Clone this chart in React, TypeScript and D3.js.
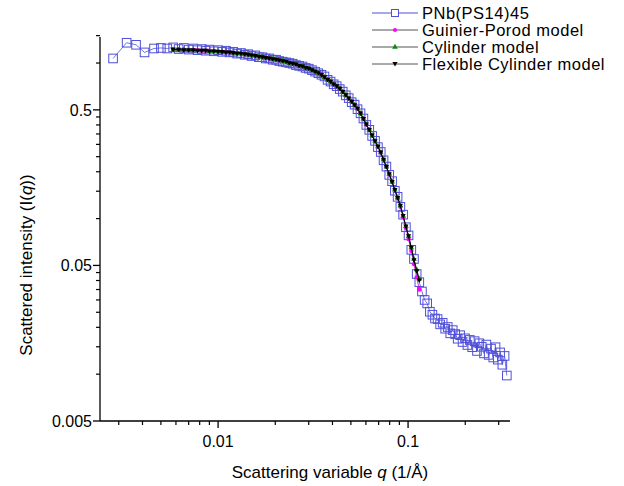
import React from "react";
import * as d3 from "d3";

// measured data: PNb(PS14)45
const qData = [
  0.0028, 0.0033, 0.0037, 0.0041, 0.0046, 0.005, 0.0054, 0.0058, 0.0062, 0.0066,
  0.007, 0.0074, 0.0078, 0.0082, 0.0086, 0.009, 0.0095, 0.01, 0.0105, 0.011,
  0.0115, 0.012, 0.0126, 0.0132, 0.0138, 0.0144, 0.015, 0.0157, 0.0164, 0.0171,
  0.0178, 0.0186, 0.0194, 0.0202, 0.021, 0.0219, 0.0228, 0.0237, 0.0247, 0.0257,
  0.0267, 0.0278, 0.0289, 0.03, 0.0312, 0.0324, 0.0337, 0.035, 0.0363, 0.0377,
  0.0391, 0.0406, 0.0421, 0.0437, 0.0453, 0.047, 0.0487, 0.0505, 0.0523, 0.0542,
  0.0562, 0.0582, 0.0603, 0.0625, 0.0647, 0.067, 0.0694, 0.0718, 0.0743, 0.0769,
  0.0796, 0.0824, 0.0852, 0.0881, 0.0911, 0.0942, 0.0974, 0.1006, 0.104, 0.1074,
  0.111, 0.1146, 0.1183, 0.1222, 0.1261, 0.1302, 0.1343, 0.1386, 0.143, 0.1475,
  0.1521, 0.1568, 0.1617, 0.1667, 0.1718, 0.177, 0.1824, 0.1879, 0.1936, 0.1994,
  0.2053, 0.2114, 0.2176, 0.224, 0.2305, 0.2372, 0.2441, 0.2511, 0.2583, 0.2657,
  0.2732, 0.2809, 0.2888, 0.2969, 0.3051, 0.3135, 0.3221, 0.331,
];
const iData = [
  1.07, 1.35, 1.31, 1.17, 1.24, 1.25, 1.24, 1.26, 1.23, 1.25,
  1.22, 1.24, 1.21, 1.23, 1.2, 1.22, 1.19, 1.21, 1.18, 1.2,
  1.17, 1.18, 1.15, 1.16, 1.13, 1.14, 1.11, 1.12, 1.09, 1.09,
  1.07, 1.07, 1.05, 1.05, 1.03, 1.02, 1.01, 1.0, 0.99, 0.97,
  0.96, 0.95, 0.93, 0.92, 0.9, 0.88, 0.86, 0.84, 0.82, 0.78,
  0.76, 0.73, 0.71, 0.68, 0.655, 0.62, 0.595, 0.56, 0.54, 0.505,
  0.475, 0.44, 0.4, 0.372, 0.34, 0.316, 0.288, 0.268, 0.237, 0.216,
  0.191, 0.174, 0.151, 0.138, 0.119, 0.106, 0.088, 0.078, 0.063, 0.055,
  0.044, 0.039, 0.034, 0.03, 0.0285, 0.0252, 0.0241, 0.0228, 0.0226, 0.0209,
  0.0214, 0.0196, 0.0201, 0.0183, 0.0192, 0.0181, 0.0169, 0.0178, 0.0161, 0.017,
  0.0154, 0.0166, 0.0149, 0.0163, 0.0141, 0.0158, 0.015, 0.0136, 0.0155, 0.0133,
  0.0146, 0.0128, 0.0149, 0.0124, 0.0138, 0.0115, 0.0131, 0.0098,
];

// model fits
const qModel = [
  0.0058, 0.0062, 0.0066, 0.007, 0.0074, 0.0078, 0.0082, 0.0086, 0.009, 0.0095,
  0.01, 0.0105, 0.011, 0.0115, 0.012, 0.0126, 0.0132, 0.0138, 0.0144, 0.015,
  0.0157, 0.0164, 0.0171, 0.0178, 0.0186, 0.0194, 0.0202, 0.021, 0.0219, 0.0228,
  0.0237, 0.0247, 0.0257, 0.0267, 0.0278, 0.0289, 0.03, 0.0312, 0.0324, 0.0337,
  0.035, 0.0363, 0.0377, 0.0391, 0.0406, 0.0421, 0.0437, 0.0453, 0.047, 0.0487,
  0.0505, 0.0523, 0.0542, 0.0562, 0.0582, 0.0603, 0.0625, 0.0647, 0.067, 0.0694,
  0.0718, 0.0743, 0.0769, 0.0796, 0.0824, 0.0852, 0.0881, 0.0911, 0.0942, 0.0974,
  0.1006, 0.104, 0.1074, 0.111, 0.1146,
];
const guinierPorod = [
  1.22, 1.22, 1.22, 1.21, 1.21, 1.21, 1.2, 1.2, 1.2, 1.19,
  1.19, 1.18, 1.18, 1.17, 1.16, 1.16, 1.15, 1.14, 1.13, 1.12,
  1.11, 1.1, 1.09, 1.08, 1.07, 1.06, 1.05, 1.04, 1.03, 1.02,
  1.0, 0.99, 0.98, 0.96, 0.95, 0.93, 0.92, 0.9, 0.88, 0.86,
  0.84, 0.81, 0.78, 0.76, 0.73, 0.71, 0.685, 0.653, 0.622, 0.592,
  0.564, 0.537, 0.509, 0.474, 0.438, 0.403, 0.371, 0.342, 0.315, 0.29,
  0.266, 0.239, 0.215, 0.193, 0.172, 0.153, 0.135, 0.119, 0.102, 0.087,
  0.074, 0.062, 0.051, 0.042, 0.035,
];
const cylinder = [
  1.21, 1.21, 1.21, 1.21, 1.2, 1.2, 1.2, 1.2, 1.19, 1.19,
  1.18, 1.18, 1.17, 1.17, 1.16, 1.15, 1.15, 1.14, 1.13, 1.12,
  1.11, 1.1, 1.09, 1.08, 1.07, 1.06, 1.05, 1.04, 1.03, 1.02,
  1.0, 0.99, 0.98, 0.96, 0.95, 0.93, 0.92, 0.9, 0.88, 0.86,
  0.84, 0.81, 0.78, 0.76, 0.73, 0.71, 0.685, 0.653, 0.622, 0.592,
  0.564, 0.537, 0.509, 0.474, 0.438, 0.403, 0.371, 0.342, 0.315, 0.29,
  0.266, 0.239, 0.215, 0.193, 0.172, 0.153, 0.136, 0.121, 0.104, 0.089,
  0.077, 0.065, 0.055, 0.047, 0.041,
];
const flexCylinder = [
  1.22, 1.22, 1.21, 1.21, 1.21, 1.2, 1.2, 1.2, 1.19, 1.19,
  1.18, 1.18, 1.17, 1.17, 1.16, 1.15, 1.15, 1.14, 1.13, 1.12,
  1.11, 1.1, 1.09, 1.08, 1.07, 1.06, 1.05, 1.04, 1.03, 1.02,
  1.0, 0.99, 0.98, 0.96, 0.95, 0.93, 0.92, 0.9, 0.88, 0.86,
  0.84, 0.81, 0.78, 0.76, 0.73, 0.71, 0.685, 0.653, 0.622, 0.592,
  0.564, 0.537, 0.509, 0.474, 0.438, 0.403, 0.371, 0.342, 0.315, 0.29,
  0.266, 0.239, 0.215, 0.193, 0.172, 0.153, 0.136, 0.121, 0.104, 0.089,
  0.077, 0.065, 0.054, 0.046, 0.04,
];

const seriesNames = ["PNb(PS14)45", "Guinier-Porod model", "Cylinder model", "Flexible Cylinder model"];

const xMajor = [0.01, 0.1];
const xMajorLabels = ["0.01", "0.1"];
const xMinor = [0.003, 0.004, 0.005, 0.006, 0.007, 0.008, 0.009, 0.02, 0.03, 0.04, 0.05, 0.06, 0.07, 0.08, 0.09, 0.2, 0.3];
const yMajor = [0.005, 0.05, 0.5];
const yMajorLabels = ["0.005", "0.05", "0.5"];
const yMinor = [
  0.01, 0.015, 0.02, 0.025, 0.03, 0.035, 0.04, 0.045,
  0.1, 0.15, 0.2, 0.25, 0.3, 0.35, 0.4, 0.45, 1.0, 1.5,
];

const W = 624;
const H = 486;
const left = 100;
const right = 510;
const top = 37;
const bottom = 421;
const font = "'Liberation Sans', Arial, sans-serif";
const blue = "#4f4fd9";

const triUp = d3.symbol().type(d3.symbolTriangle).size(14)()!;
const triDown = "M0,2.6L-2.6,-1.9L2.6,-1.9Z";

export default function App() {
  const x = d3.scaleLog().domain([0.00239, 0.344]).range([left, right]);
  const y = d3.scaleLog().domain([0.005, 1.47]).range([bottom, top]);

  const line = d3.line<[number, number]>().x((d) => x(d[0])).y((d) => y(d[1]));
  const data = qData.map((q, i) => [q, iData[i]] as [number, number]);
  const gp = qModel.map((q, i) => [q, guinierPorod[i]] as [number, number]);
  const cyl = qModel.map((q, i) => [q, cylinder[i]] as [number, number]);
  const flex = qModel.map((q, i) => [q, flexCylinder[i]] as [number, number]);

  // legend rows
  const legendY = [13, 30, 47, 64];
  const lx0 = 372;
  const lx1 = 418;
  const lmid = (lx0 + lx1) / 2;

  return (
    <svg width={W} height={H} style={{ position: "absolute", left: 0, top: 0, background: "#fff" }} fontFamily={font}>
      {/* data */}
      <path d={line(data)!} fill="none" stroke={blue} strokeWidth={0.8} />
      {data.map((d, i) => (
        <rect key={"s" + i} x={x(d[0]) - 4.3} y={y(d[1]) - 4.3} width={8.6} height={8.6} fill="none" stroke={blue} strokeWidth={1} />
      ))}

      {/* Guinier-Porod */}
      <path d={line(gp)!} fill="none" stroke="#c000c0" strokeWidth={0.8} />
      {gp.map((d, i) => (
        <circle key={"g" + i} cx={x(d[0])} cy={y(d[1])} r={2.2} fill="#ff00ff" />
      ))}

      {/* Cylinder */}
      <path d={line(cyl)!} fill="none" stroke="#1a4a1a" strokeWidth={0.8} />
      {cyl.map((d, i) => (
        <path key={"c" + i} d={triUp} transform={`translate(${x(d[0])},${y(d[1])})`} fill="#0a8a0a" />
      ))}

      {/* Flexible cylinder */}
      <path d={line(flex)!} fill="none" stroke="#000" strokeWidth={1} />
      {flex.map((d, i) => (
        <path key={"f" + i} d={triDown} transform={`translate(${x(d[0])},${y(d[1])})`} fill="#000" />
      ))}

      {/* axes */}
      <line x1={left} x2={right} y1={bottom} y2={bottom} stroke="#000" strokeWidth={1.3} />
      <line x1={left} x2={left} y1={top} y2={bottom} stroke="#000" strokeWidth={1.3} />
      {xMajor.map((t, i) => (
        <g key={"xm" + i}>
          <line x1={x(t)} x2={x(t)} y1={bottom} y2={bottom + 7} stroke="#000" strokeWidth={1.3} />
          <text x={x(t)} y={bottom + 26} textAnchor="middle" fontSize={16}>
            {xMajorLabels[i]}
          </text>
        </g>
      ))}
      {xMinor.map((t, i) => (
        <line key={"xn" + i} x1={x(t)} x2={x(t)} y1={bottom} y2={bottom + 4} stroke="#000" strokeWidth={1.2} />
      ))}
      {yMajor.map((t, i) => (
        <g key={"ym" + i}>
          <line x1={left - 7} x2={left} y1={y(t)} y2={y(t)} stroke="#000" strokeWidth={1.3} />
          <text x={left - 8} y={y(t) + 6} textAnchor="end" fontSize={16}>
            {yMajorLabels[i]}
          </text>
        </g>
      ))}
      {yMinor.map((t, i) => (
        <line key={"yn" + i} x1={left - 4} x2={left} y1={y(t)} y2={y(t)} stroke="#000" strokeWidth={1.2} />
      ))}

      {/* axis titles */}
      <text x={330} y={478} textAnchor="middle" fontSize={17}>
        Scattering variable <tspan fontStyle="italic">q</tspan> (1/Å)
      </text>
      <text transform="translate(32,265) rotate(-90)" textAnchor="middle" fontSize={17}>
        Scattered intensity (I(<tspan fontStyle="italic">q</tspan>))
      </text>

      {/* legend */}
      {seriesNames.map((name, i) => (
        <g key={"l" + i}>
          <line x1={lx0} x2={lx1} y1={legendY[i]} y2={legendY[i]} stroke={i === 0 ? blue : "#555"} strokeWidth={1} />
          {i === 0 && <rect x={lmid - 3.5} y={legendY[i] - 3.5} width={7} height={7} fill="#fff" stroke={blue} />}
          {i === 1 && <circle cx={lmid} cy={legendY[i]} r={2} fill="#ff00ff" />}
          {i === 2 && <path d={triUp} transform={`translate(${lmid},${legendY[i]})`} fill="#0a8a0a" />}
          {i === 3 && <path d={triDown} transform={`translate(${lmid},${legendY[i]})`} fill="#000" />}
          <text x={lx1 + 4} y={legendY[i] + 5.5} fontSize={16.5} letterSpacing={0.5}>
            {name}
          </text>
        </g>
      ))}
    </svg>
  );
}
